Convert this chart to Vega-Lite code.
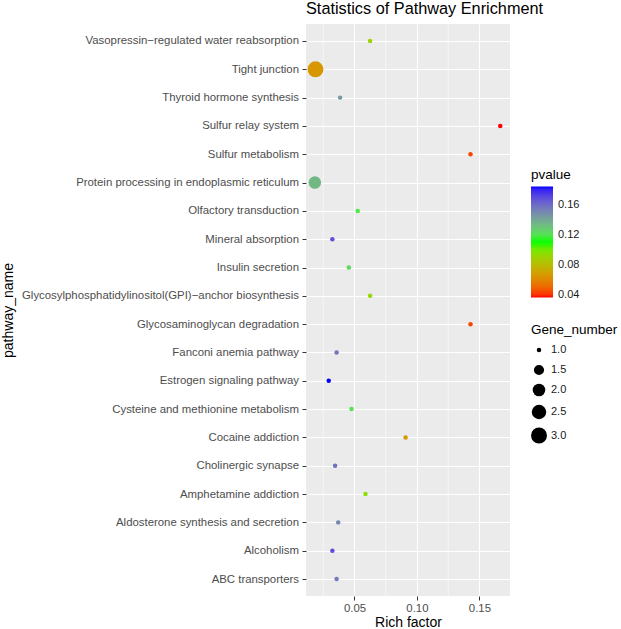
{
  "$schema": "https://vega.github.io/schema/vega-lite/v6.json",
  "width": 204,
  "height": 572,
  "autosize": {"type": "none"},
  "padding": {"left": 306, "top": 24, "right": 111, "bottom": 33},
  "background": "white",
  "config": {
    "font": "Liberation Sans",
    "view": {"fill": "#EBEBEB", "stroke": null}
  },
  "title": {
    "text": "Statistics of Pathway Enrichment",
    "anchor": "start",
    "frame": "group",
    "fontSize": 16.3,
    "fontWeight": "normal",
    "color": "black",
    "offset": 6
  },
  "layer": [
    {
      "data": {"values": [{"minor": 0.025}, {"minor": 0.075}, {"minor": 0.125}]},
      "mark": {"type": "rule", "color": "white", "strokeWidth": 0.55},
      "encoding": {
        "x": {"field": "minor", "type": "quantitative", "scale": {"domain": [0.0112, 0.1745], "nice": false, "zero": false}, "title": "Rich factor"}
      }
    },
    {
      "data": {
        "values": [
          {"pathway_name": "Vasopressin−regulated water reabsorption", "rich_factor": 0.0625, "pvalue": 0.091, "gene_number": 1},
          {"pathway_name": "Tight junction", "rich_factor": 0.0188, "pvalue": 0.065, "gene_number": 3},
          {"pathway_name": "Thyroid hormone synthesis", "rich_factor": 0.0385, "pvalue": 0.145, "gene_number": 1},
          {"pathway_name": "Sulfur relay system", "rich_factor": 0.1667, "pvalue": 0.0364, "gene_number": 1},
          {"pathway_name": "Sulfur metabolism", "rich_factor": 0.1429, "pvalue": 0.043, "gene_number": 1},
          {"pathway_name": "Protein processing in endoplasmic reticulum", "rich_factor": 0.0183, "pvalue": 0.134, "gene_number": 2},
          {"pathway_name": "Olfactory transduction", "rich_factor": 0.0526, "pvalue": 0.117, "gene_number": 1},
          {"pathway_name": "Mineral absorption", "rich_factor": 0.0323, "pvalue": 0.168, "gene_number": 1},
          {"pathway_name": "Insulin secretion", "rich_factor": 0.0455, "pvalue": 0.123, "gene_number": 1},
          {"pathway_name": "Glycosylphosphatidylinositol(GPI)−anchor biosynthesis", "rich_factor": 0.0625, "pvalue": 0.092, "gene_number": 1},
          {"pathway_name": "Glycosaminoglycan degradation", "rich_factor": 0.1429, "pvalue": 0.043, "gene_number": 1},
          {"pathway_name": "Fanconi anemia pathway", "rich_factor": 0.0357, "pvalue": 0.156, "gene_number": 1},
          {"pathway_name": "Estrogen signaling pathway", "rich_factor": 0.0294, "pvalue": 0.184, "gene_number": 1},
          {"pathway_name": "Cysteine and methionine metabolism", "rich_factor": 0.0476, "pvalue": 0.12, "gene_number": 1},
          {"pathway_name": "Cocaine addiction", "rich_factor": 0.0909, "pvalue": 0.066, "gene_number": 1},
          {"pathway_name": "Cholinergic synapse", "rich_factor": 0.0345, "pvalue": 0.158, "gene_number": 1},
          {"pathway_name": "Amphetamine addiction", "rich_factor": 0.0588, "pvalue": 0.096, "gene_number": 1},
          {"pathway_name": "Aldosterone synthesis and secretion", "rich_factor": 0.037, "pvalue": 0.15, "gene_number": 1},
          {"pathway_name": "Alcoholism", "rich_factor": 0.0323, "pvalue": 0.169, "gene_number": 1},
          {"pathway_name": "ABC transporters", "rich_factor": 0.0357, "pvalue": 0.155, "gene_number": 1}
        ]
      },
      "mark": {"type": "circle", "opacity": 1},
      "encoding": {
        "x": {
          "field": "rich_factor",
          "type": "quantitative",
          "scale": {"domain": [0.0112, 0.1745], "nice": false, "zero": false},
          "title": "Rich factor",
          "axis": {
            "values": [0.05, 0.1, 0.15],
            "format": ".2f",
            "domain": false,
            "grid": true,
            "gridColor": "white",
            "gridWidth": 1.1,
            "tickColor": "#333333",
            "tickSize": 4,
            "labelFontSize": 11.4,
            "labelColor": "#4D4D4D",
            "labelPadding": 2,
            "titleFontSize": 14,
            "titleFontWeight": "normal",
            "titleColor": "black",
            "titlePadding": 2
          }
        },
        "y": {
          "field": "pathway_name",
          "type": "nominal",
          "sort": ["Vasopressin−regulated water reabsorption", "Tight junction", "Thyroid hormone synthesis", "Sulfur relay system", "Sulfur metabolism", "Protein processing in endoplasmic reticulum", "Olfactory transduction", "Mineral absorption", "Insulin secretion", "Glycosylphosphatidylinositol(GPI)−anchor biosynthesis", "Glycosaminoglycan degradation", "Fanconi anemia pathway", "Estrogen signaling pathway", "Cysteine and methionine metabolism", "Cocaine addiction", "Cholinergic synapse", "Amphetamine addiction", "Aldosterone synthesis and secretion", "Alcoholism", "ABC transporters"],
          "scale": {"type": "point", "padding": 0.6},
          "title": "pathway_name",
          "axis": {
            "domain": false,
            "grid": true,
            "gridColor": "white",
            "gridWidth": 1.1,
            "tickColor": "#333333",
            "tickSize": 4,
            "labelFontSize": 11.4,
            "labelColor": "#4D4D4D",
            "labelPadding": 3.5,
            "labelLimit": 400,
            "titleFontSize": 14,
            "titleFontWeight": "normal",
            "titleColor": "black",
            "titleX": -298,
            "titleY": 286,
            "titleAngle": 270,
            "titleAlign": "center",
            "titleBaseline": "middle"
          }
        },
        "color": {
          "field": "pvalue",
          "type": "quantitative",
          "scale": {"domain": [0.0364, 0.1102, 0.184], "range": ["#FF0000", "#00FF00", "#0000FF"], "interpolate": "lab"},
          "legend": {
            "type": "gradient",
            "title": "pvalue",
            "values": [0.04, 0.08, 0.12, 0.16],
            "format": ".2f",
            "orient": "none",
            "legendX": 225,
            "legendY": 144,
            "direction": "vertical",
            "gradientLength": 111,
            "gradientThickness": 22,
            "gradientStrokeWidth": 0,
            "titleFontSize": 13.5,
            "titleFontWeight": "normal",
            "titleColor": "black",
            "labelFontSize": 11,
            "labelColor": "#1A1A1A",
            "labelOffset": 5
          }
        },
        "size": {
          "field": "gene_number",
          "type": "quantitative",
          "scale": {"domain": [1, 1.5, 2, 2.5, 3], "range": [20, 104, 158, 209, 254], "zero": false},
          "legend": {
            "title": "Gene_number",
            "values": [1, 1.5, 2, 2.5, 3],
            "format": ".1f",
            "orient": "none",
            "legendX": 225,
            "legendY": 299,
            "symbolFillColor": "black",
            "symbolStrokeColor": "black",
            "symbolStrokeWidth": 0,
            "symbolOpacity": 1,
            "titleFontSize": 13.5,
            "titleFontWeight": "normal",
            "titleColor": "black",
            "titlePadding": 8,
            "labelFontSize": 11,
            "labelColor": "#1A1A1A",
            "rowPadding": 8
          }
        }
      }
    }
  ]
}
